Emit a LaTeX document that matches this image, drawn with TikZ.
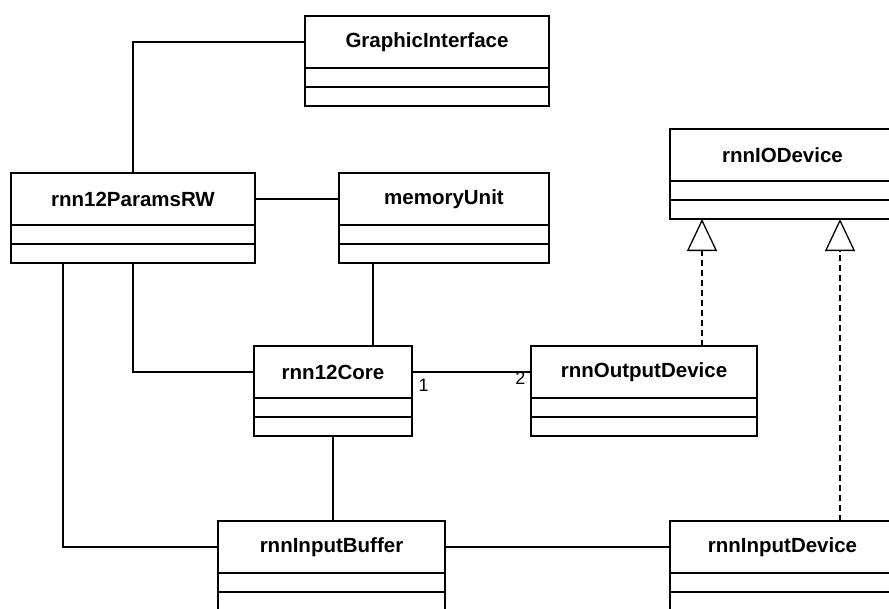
\documentclass[tikz,border=0pt]{standalone}
\usepackage{fontspec}
\setmainfont{Liberation Sans}
\usetikzlibrary{arrows.meta}

\newcommand{\umlclass}[5]{% name, x, y, width, label
  \node [head, minimum width=#4pt, anchor=north west] (#1) at (#2,#3) {#5};
  \node [part, minimum width=#4pt, anchor=north] (#1-a) at (#1.south) {};
  \node [part, minimum width=#4pt, anchor=north] (#1-b) at (#1-a.south) {};
}

\begin{document}
\begin{tikzpicture}[x=1pt, y=-1pt, line width=1.3pt,
    head/.style={draw, outer sep=0pt, inner sep=0pt, minimum height=52pt,
      font=\bfseries\fontsize{20.5}{24}\selectfont},
    part/.style={draw, outer sep=0pt, inner sep=0pt, minimum height=19pt},
    mult/.style={inner sep=2pt, font=\fontsize{18}{20}\selectfont},
    realize/.style={dashed, dash pattern=on 6pt off 4pt,
      -{Triangle[open, width=30pt, length=32pt]}}]
  \useasboundingbox (0,0) rectangle (889,608);
  \clip (0,0) rectangle (889,608);

  % classes
  \umlclass{gi}{305}{16}{244}{GraphicInterface}
  \umlclass{prw}{11}{173}{244}{rnn12ParamsRW}
  \umlclass{mem}{339}{173}{210}{memoryUnit}
  \umlclass{io}{670}{129}{225}{rnnIODevice}
  \umlclass{core}{254}{346}{158}{rnn12Core}
  \umlclass{out}{531}{346}{226}{rnnOutputDevice}
  \umlclass{buf}{218}{521}{227}{rnnInputBuffer}
  \umlclass{dev}{670}{521}{225}{rnnInputDevice}

  % associations
  \draw (gi.west) -| (prw.north);
  \draw (prw.east) -- (mem.west);
  \coordinate (prwdrop) at ([xshift=52pt]prw-b.south west);
  \draw (prwdrop) |- (buf.west);
  \draw (prw-b.south) |- (core.west);
  \coordinate (memdrop) at ([xshift=34pt]mem-b.south west);
  \draw (memdrop) -- (memdrop |- core.north);
  \draw (core-b.south) -- (core-b.south |- buf.north);
  \draw (core.east) -- (out.west);
  \node [mult, anchor=north west] (one) at ([xshift=4pt,yshift=-4pt]core.east) {1};
  \node [mult, anchor=north east] (two) at ([xshift=-3pt,yshift=3pt]out.west) {2};
  \draw (buf.east) -- (dev.west);

  % realizations
  \coordinate (outtop) at ([xshift=171pt]out.north west);
  \draw [realize] (outtop) -- (outtop |- io-b.south);
  \coordinate (devtop) at ([xshift=170pt]dev.north west);
  \draw [realize] (devtop) -- (devtop |- io-b.south);
\end{tikzpicture}
\end{document}
